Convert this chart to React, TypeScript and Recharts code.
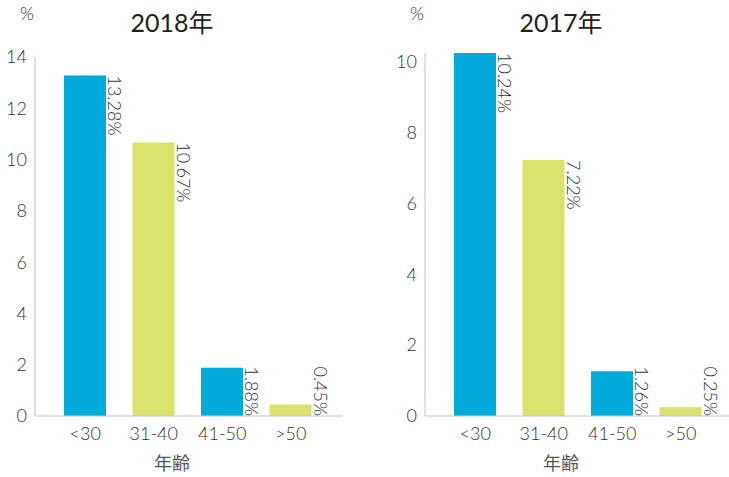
import React from 'react';
import { BarChart, Bar, XAxis, YAxis, Cell, LabelList } from 'recharts';

const ageGroups = ['<30', '31-40', '41-50', '>50'];
const share2018 = [13.28, 10.67, 1.88, 0.45];
const share2017 = [10.24, 7.22, 1.26, 0.25];
const ticks2018 = [0, 2, 4, 6, 8, 10, 12, 14];
const ticks2017 = [0, 2, 4, 6, 8, 10];
const barColors = ['#00AADB', '#D9E26B', '#00AADB', '#D9E26B'];

const textColor = '#333333';
const axisColor = '#c4c4c4';
const font = 'Lato, "Noto Sans CJK SC", sans-serif';

const toRows = (values: number[]) => ageGroups.map((age, i) => ({ age, value: values[i] }));

// rotated value label, hung from bar top or sitting on the baseline when the bar is short
const renderLabel = (props: any) => {
  const { x, y, width, height, value } = props;
  const lx = x + width + 2;
  const short = height < 60;
  const ly = short ? y + height : y;
  return (
    <text
      x={lx}
      y={ly}
      transform={`rotate(90, ${lx}, ${ly})`}
      textAnchor={short ? 'end' : 'start'}
      fill={textColor}
      fontSize={18}
      fontWeight={300}
      fontFamily={font}
    >
      {`${value.toFixed(2)}%`}
    </text>
  );
};

interface PanelProps {
  left: number;
  width: number;
  axisWidth: number;
  rightMargin: number;
  topMargin: number;
  values: number[];
  ticks: number[];
  domain: any;
  title: string;
  titleX: number;
  unitX: number;
  xPadding: { left: number; right: number };
}

const Panel = (p: PanelProps) => (
  <div style={{ position: 'absolute', left: p.left, top: 0, width: p.width, height: 477 }}>
    <BarChart
      width={p.width}
      height={477}
      data={toRows(p.values)}
      margin={{ top: p.topMargin, right: p.rightMargin, bottom: 31, left: 0 }}
    >
      <XAxis
        dataKey="age"
        stroke={axisColor}
        tickLine={false}
        tickMargin={5}
        padding={p.xPadding}
        tick={{ fill: textColor, fontSize: 18, fontWeight: 300, fontFamily: font }}
      />
      <YAxis
        width={p.axisWidth}
        type="number"
        domain={p.domain}
        ticks={p.ticks}
        stroke={axisColor}
        tickLine={false}
        tick={{ fill: textColor, fontSize: 18, fontWeight: 300, fontFamily: font }}
      />
      <Bar dataKey="value" barSize={42} isAnimationActive={false}>
        {p.values.map((_, i) => (
          <Cell key={`cell-${i}`} fill={barColors[i]} />
        ))}
        <LabelList dataKey="value" content={renderLabel} />
      </Bar>
    </BarChart>
    <div
      style={{
        position: 'absolute',
        left: p.titleX - p.left - 60,
        width: 120,
        top: 3,
        textAlign: 'center',
        fontSize: 25,
        fontWeight: 400,
        color: '#231f20',
        fontFamily: font,
      }}
    >
      {p.title}
    </div>
    <div
      style={{
        position: 'absolute',
        left: p.unitX - p.left - 10,
        width: 20,
        top: 2,
        textAlign: 'center',
        fontSize: 18,
        fontWeight: 300,
        color: textColor,
        fontFamily: font,
      }}
    >
      %
    </div>
    <div
      style={{
        position: 'absolute',
        left: p.titleX - p.left - 40,
        width: 80,
        top: 449,
        textAlign: 'center',
        fontSize: 18,
        color: '#555',
        fontFamily: '"Noto Sans CJK JP", sans-serif',
      }}
    >
      年齢
    </div>
  </div>
);

const App = () => (
  <div style={{ position: 'absolute', left: 0, top: 0, width: 729, height: 477, background: '#fff' }}>
    <Panel
      left={0}
      width={365}
      axisWidth={35}
      rightMargin={22}
      topMargin={57}
      values={share2018}
      ticks={ticks2018}
      domain={[0, 14]}
      title="2018年"
      titleX={172}
      unitX={27}
      xPadding={{ left: 16, right: 18 }}
    />
    <Panel
      left={365}
      width={364}
      axisWidth={60}
      rightMargin={0}
      topMargin={53}
      values={share2017}
      ticks={ticks2017}
      domain={[0, 'dataMax']}
      title="2017年"
      titleX={561}
      unitX={417}
      xPadding={{ left: 16, right: 14 }}
    />
  </div>
);

export default App;
